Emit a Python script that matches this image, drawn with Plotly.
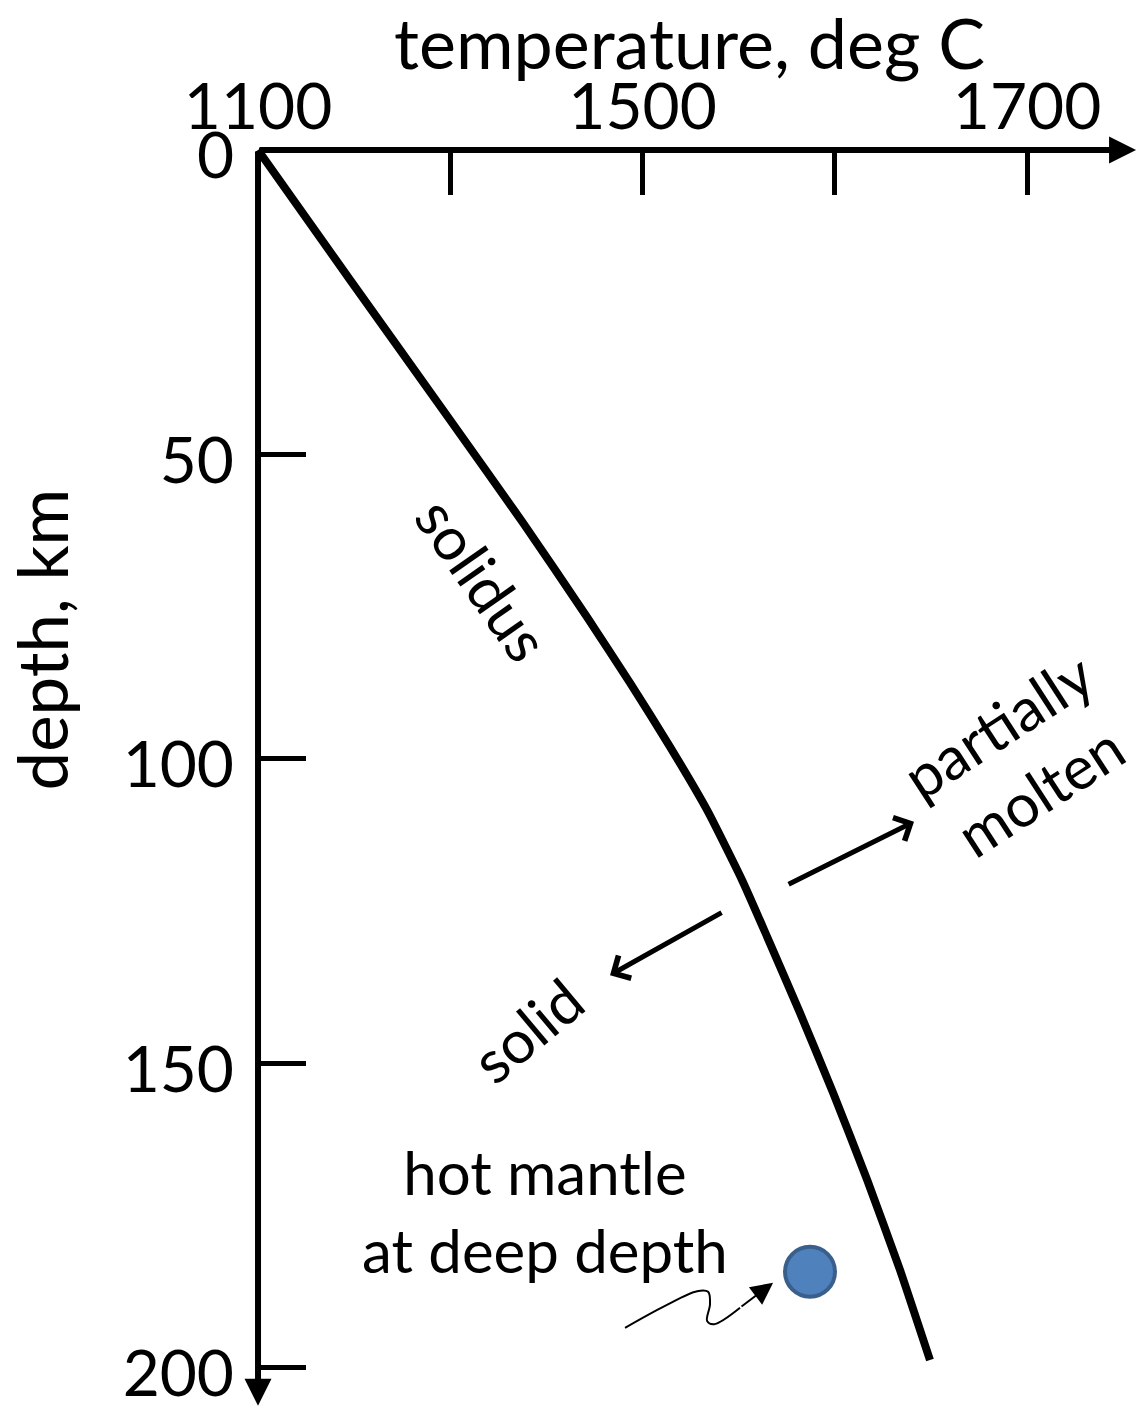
import plotly.graph_objects as go

# ---- data (x in schematic temperature-axis units: one unit per tick step; y in km) ----
tick_pos = [0, 1, 2, 3, 4]
tick_text = ["1100", "", "1500", "", "1700"]
depth_ticks = [0, 50, 100, 150, 200]

solidus_x = [0.0, 0.476, 0.987, 1.378, 1.711, 1.935, 2.143, 2.336, 2.518,
             2.648, 2.819, 2.991, 3.168, 3.339, 3.495]
solidus_depth = [0.0, 21.2, 43.8, 61.2, 76.7, 87.5, 98.0, 108.4, 119.9,
                 129.2, 141.7, 154.8, 169.1, 183.9, 198.7]

mantle_x = [2.871]
mantle_depth = [184.2]

squiggle_x = [1.909, 2.117, 2.284, 2.341, 2.351, 2.336, 2.372, 2.507]
squiggle_depth = [193.4, 189.8, 187.4, 187.5, 189.5, 192.3, 192.8, 190.1]
squiggle_tip = (2.679, 186.0)

molten_arrow = ((2.752, 120.7), (3.412, 110.3))   # (tail, tip)
solid_arrow = ((2.419, 125.1), (1.831, 135.5))

x_range = [-1.342, 4.577]
y_range = [206.57, -24.63]
x_axis_tip = 4.567
y_axis_tip = 206.2

FONT = "Lato"
BLACK = "#000000"

fig = go.Figure()

fig.add_trace(go.Scatter(
    x=solidus_x, y=solidus_depth, mode="lines",
    line=dict(color=BLACK, width=8, shape="spline", smoothing=0.5),
    hoverinfo="skip", showlegend=False))

fig.add_trace(go.Scatter(
    x=squiggle_x, y=squiggle_depth, mode="lines",
    line=dict(color=BLACK, width=2, shape="spline", smoothing=1.0),
    hoverinfo="skip", showlegend=False))

fig.add_trace(go.Scatter(
    x=mantle_x, y=mantle_depth, mode="markers",
    marker=dict(size=50, color="#4F81BD", line=dict(color="#3A5F8C", width=4)),
    hoverinfo="skip", showlegend=False))

annotations = []

def arrow(tail, tip, width, head, size):
    return dict(x=tip[0], y=tip[1], ax=tail[0], ay=tail[1],
                xref="x", yref="y", axref="x", ayref="y",
                text="", showarrow=True, arrowhead=head, arrowwidth=width,
                arrowsize=size, arrowcolor=BLACK)

# axis lines with arrowheads
annotations.append(arrow((0, 0), (x_axis_tip, 0), 6, 2, 0.9))
annotations.append(arrow((0, 0), (0, y_axis_tip), 6, 2, 0.9))
# region arrows
annotations.append(arrow(molten_arrow[0], molten_arrow[1], 5, 4, 1.0))
annotations.append(arrow(solid_arrow[0], solid_arrow[1], 5, 4, 1.0))
# squiggle arrowhead
annotations.append(arrow((squiggle_x[-1], squiggle_depth[-1]), squiggle_tip, 2, 2, 2.2))

def label(text, x, y, angle=0, size=60):
    return dict(x=x, y=y, xref="x", yref="y", text=text, showarrow=False,
                textangle=angle, xanchor="center", yanchor="middle",
                font=dict(family=FONT, size=size, color=BLACK), align="center")

annotations.append(label("solidus", 1.170, 70.5, 55))
annotations.append(label("solid", 1.399, 144.5, -40))
annotations.append(label("partially<br>molten", 3.955, 99.8, -33))
annotations.append(label("hot mantle<br>at deep depth", 1.493, 174.2, 0))

# axis titles
annotations.append(dict(x=0.6063, y=0.970, xref="paper", yref="paper",
                        text="temperature, deg C", showarrow=False,
                        xanchor="center", yanchor="middle",
                        font=dict(family=FONT, size=70, color=BLACK)))
annotations.append(dict(x=0.0365, y=0.5455, xref="paper", yref="paper",
                        text="depth, km", showarrow=False, textangle=-90,
                        xanchor="center", yanchor="middle",
                        font=dict(family=FONT, size=69, color=BLACK)))

fig.update_layout(
    width=1138, height=1408,
    margin=dict(l=0, r=0, t=0, b=0),
    paper_bgcolor="white", plot_bgcolor="white",
    showlegend=False,
    annotations=annotations,
    font=dict(family=FONT, color=BLACK),
    xaxis=dict(
        range=x_range, side="top", anchor="free", position=1 - 150 / 1408,
        tickvals=tick_pos, ticktext=tick_text,
        ticks="inside", ticklen=44, tickwidth=5, tickcolor=BLACK,
        tickfont=dict(family=FONT, size=64, color=BLACK),
        ticklabelstandoff=8, ticklabeloverflow="allow",
        showgrid=False, zeroline=False, showline=False,
        automargin=False, fixedrange=True,
    ),
    yaxis=dict(
        range=y_range, anchor="free", position=258 / 1138,
        tickvals=depth_ticks,
        ticks="inside", ticklen=47, tickwidth=5, tickcolor=BLACK,
        tickfont=dict(family=FONT, size=64, color=BLACK),
        ticklabelstandoff=24, ticklabelshift=-6, ticklabeloverflow="allow",
        showgrid=False, zeroline=False, showline=False,
        automargin=False, fixedrange=True,
    ),
)

fig.write_html("out.html")
